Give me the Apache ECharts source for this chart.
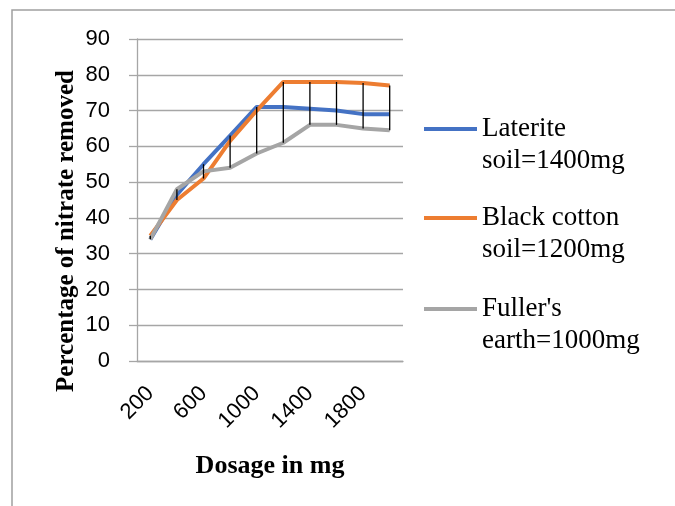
<!DOCTYPE html>
<html>
<head>
<meta charset="utf-8">
<style>
html, body { margin: 0; padding: 0; background: #fff; }
#chart { width: 675px; height: 506px; }
</style>
<script src="https://cdn.jsdelivr.net/npm/echarts@6/dist/echarts.min.js"></script>
</head>
<body>
<div id="chart"></div>
<script>
// dosage categories (mg)
var dosage = ['200', '400', '600', '800', '1000', '1200', '1400', '1600', '1800', '2000']
// percentage of nitrate removed
var laterite = [34, 46.5, 55, 63, 71, 71, 70.5, 70, 69, 69]
var blackCotton = [35, 45, 51, 61.5, 70, 78, 78, 78, 77.7, 77]
var fullers = [34, 48, 53, 54, 58, 61, 66, 66, 65, 64.5]

var names = ['Laterite\nsoil=1400mg', 'Black cotton\nsoil=1200mg', 'Fuller\'s\nearth=1000mg']
var colors = ['#4472C4', '#ED7D31', '#A5A5A5']

// high-low lines between the three series at each dosage
var hiLow = []
for (let i = 0; i < dosage.length; ++i) {
    var vals = [laterite[i], blackCotton[i], fullers[i]]
    hiLow.push([i, Math.min.apply(null, vals), Math.max.apply(null, vals)])
}

var serifFont = '"Liberation Serif", "DejaVu Serif", serif'
var sansFont = '"Liberation Sans", Arial, sans-serif'
var gridColor = '#a6a6a6'

function legendFor(idx, top) {
    return {
        data: [names[idx]],
        left: 424,
        top: top,
        orient: 'vertical',
        padding: 0,
        icon: 'rect',
        itemWidth: 53,
        itemHeight: 4,
        selectedMode: false,
        // blank first line so the icon sits beside the first text line
        formatter: function (name) {
            return ' \n' + name
        },
        textStyle: {
            fontFamily: serifFont,
            fontSize: 27,
            lineHeight: 32,
            color: '#000'
        }
    }
}

var chart = echarts.init(document.getElementById('chart'))
var seriesdata = []
var data = [laterite, blackCotton, fullers]
for (let i = 0; i < data.length; ++i) {
    seriesdata.push({
        name: names[i],
        type: 'line',
        data: data[i],
        symbol: 'none',
        color: colors[i],
        lineStyle: { color: colors[i], width: 4 },
        z: 2,
        animation: false
    })
}
seriesdata.push({
    type: 'custom',
    data: hiLow,
    z: 5,
    animation: false,
    renderItem: function (params, api) {
        var top = api.coord([api.value(0), api.value(2)])
        var bot = api.coord([api.value(0), api.value(1)])
        return {
            type: 'line',
            shape: { x1: top[0], y1: top[1], x2: bot[0], y2: bot[1] },
            style: { stroke: '#000', lineWidth: 1.3 }
        }
    }
})

chart.setOption({
    animation: false,
    grid: {
        left: 137,
        right: 272,
        top: 39,
        bottom: 145
    },
    graphic: [{
        type: 'rect',
        shape: { x: 12, y: 10, width: 700, height: 520 },
        style: { fill: 'none', stroke: '#a0a0a0', lineWidth: 1.5 },
        silent: true
    }],
    legend: [legendFor(0, 81), legendFor(1, 170), legendFor(2, 261)],
    xAxis: {
        type: 'category',
        data: dosage,
        boundaryGap: true,
        name: 'Dosage in mg',
        nameLocation: 'middle',
        nameGap: 92,
        nameTextStyle: {
            fontFamily: serifFont,
            fontWeight: 'bold',
            fontSize: 26,
            color: '#000'
        },
        axisLine: { lineStyle: { color: gridColor, width: 1.3 } },
        axisTick: { show: false },
        axisLabel: {
            interval: 1,
            rotate: 45,
            margin: 29,
            fontFamily: sansFont,
            fontSize: 22,
            color: '#000'
        }
    },
    yAxis: {
        type: 'value',
        min: 0,
        max: 90,
        interval: 10,
        name: 'Percentage of nitrate removed',
        nameLocation: 'middle',
        nameGap: 58,
        nameTextStyle: {
            fontFamily: serifFont,
            fontWeight: 'bold',
            fontSize: 25,
            color: '#000',
            padding: [0, 62, 0, 0]
        },
        axisLine: { show: true, lineStyle: { color: gridColor, width: 1.3 } },
        axisTick: { show: true, length: 8, lineStyle: { color: gridColor, width: 1.3 } },
        splitLine: { lineStyle: { color: gridColor, width: 1.3 } },
        axisLabel: {
            margin: 27,
            fontFamily: sansFont,
            fontSize: 22,
            color: '#000'
        }
    },
    series: seriesdata
})
</script>
</body>
</html>
